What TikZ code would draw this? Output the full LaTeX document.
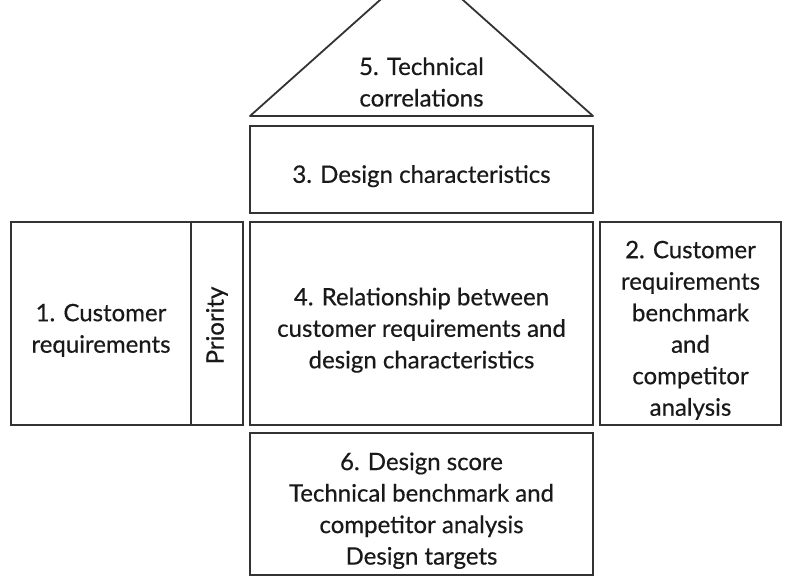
\documentclass[tikz,border=0pt]{standalone}
\usepackage{fontspec}
\setmainfont{Lato}[FakeBold=0.5]
\usetikzlibrary{positioning}
\newcommand{\hqstrut}{\rule{0pt}{31pt}}
\begin{document}
\begin{tikzpicture}[x=1pt,y=-1pt,
	box/.style={draw=black!80,line width=1.8pt,outer sep=0pt,inner sep=0pt,minimum width=343pt,align=center,text=black!90,font=\fontsize{24}{31.5}\selectfont},
	lbl/.style={align=center,text=black!90,font=\fontsize{24}{31.5}\selectfont}]
	\useasboundingbox (0,0) rectangle (795,576);
	\clip (0,0) rectangle (795,576);
	\node (rel) [box,minimum height=203pt] at (421.5,323.5) {\hqstrut 4. Relationship between\\customer requirements and\\design characteristics};
	\node (design) [box,minimum height=87pt,above=9pt of rel] {\hqstrut 3. Design characteristics};
	\node (score) [box,minimum height=142pt,below=8pt of rel] {\hqstrut 6. Design score\\Technical benchmark and\\competitor analysis\\Design targets};
	\node (prio) [box,minimum width=52pt,minimum height=203pt,left=7pt of rel] {};
	\node (priotext) [lbl,rotate=90] at ([yshift=-2pt]prio.center) {Priority};
	\node (cust) [box,minimum width=180pt,minimum height=203pt,left=0pt of prio] {\hqstrut 1. Customer\\requirements};
	\node (bench) [box,minimum width=181pt,minimum height=203pt,right=7pt of rel] {\hqstrut 2. Customer\\requirements\\benchmark\\and\\competitor\\analysis};
	\coordinate (roofL) at ([yshift=10pt]design.north west);
	\coordinate (roofR) at ([yshift=10pt]design.north east);
	\coordinate (apex) at ([yshift=163pt]design.north);
	\draw[draw=black!80,line width=1.8pt,line join=round] (roofL) -- (apex) -- (roofR) -- cycle;
	\node (corr) [lbl] at ([yshift=44pt]design.north) {5. Technical\\correlations};
\end{tikzpicture}
\end{document}
